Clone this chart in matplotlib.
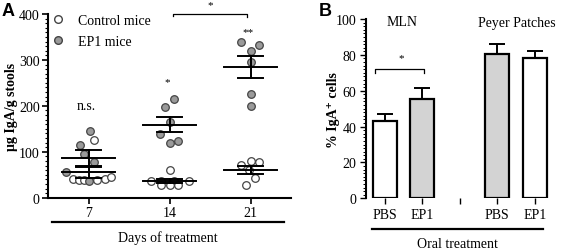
import matplotlib
matplotlib.use("Agg")
import matplotlib.pyplot as plt
from matplotlib.ticker import MultipleLocator
from matplotlib.lines import Line2D

plt.rcParams['font.family'] = ['Liberation Serif', 'DejaVu Serif']
plt.rcParams['font.size'] = 10

# ---- Panel A data (ug IgA / g stools) ----
days = ['7', '14', '21']
ctrl_vals = [[126, 41, 39, 38, 39, 41, 46],
             [61, 37, 36, 36, 36, 27, 27, 27],
             [81, 78, 71, 60, 42, 28]]
ctrl_jit = [[0.07, -0.19, -0.12, -0.06, 0.11, 0.2, 0.28],
            [0.0, -0.23, -0.11, 0.06, 0.24, -0.11, 0.0, 0.11],
            [0.0, 0.11, -0.12, -0.02, 0.06, -0.06]]
ep1_vals = [[145, 115, 96, 77, 55, 36],
            [215, 197, 164, 139, 123, 119],
            [339, 333, 320, 296, 226, 200]]
ep1_jit = [[0.02, -0.11, -0.05, 0.07, -0.28, 0.0],
           [0.06, -0.06, 0.0, -0.12, 0.11, 0.0],
           [-0.12, 0.11, 0.0, 0.0, 0.0, 0.0]]
ctrl_mean = [55, 36, 60]
ctrl_sem = [12, 4, 8]
ep1_mean = [86, 159, 285]
ep1_sem = [17, 16, 24]
sig_a = ['n.s.', '*', '**']
sig_a_y = [200, 253, 362]

# ---- Panel B data (% IgA+ cells) ----
b_labels = ['PBS', 'EP1', '', 'PBS', 'EP1']
b_vals = [43, 55.5, None, 80.5, 78.5]
b_err = [4, 6, None, 5.5, 3.5]
b_fill = ['white', '#d3d3d3', None, '#d3d3d3', 'white']

W, H = 561, 251
fig = plt.figure(figsize=(W / 100, H / 100), dpi=100)


def fx(x):
    return x / W


def fy(y):
    return 1 - y / H


# ================= Panel A =================
axA = fig.add_axes([fx(48), fy(198.7), fx(291) - fx(48), fy(15) - fy(198.7)])
for i in range(3):
    axA.scatter([i + j for j in ctrl_jit[i]], ctrl_vals[i], s=30, facecolor='white',
                edgecolor='#444444', linewidth=0.9, zorder=3, clip_on=False)
    axA.scatter([i + j for j in ep1_jit[i]], ep1_vals[i], s=30, facecolor='#9a9a9a',
                edgecolor='#444444', linewidth=0.9, zorder=3, clip_on=False)
    for m, s in [(ctrl_mean[i], ctrl_sem[i]), (ep1_mean[i], ep1_sem[i])]:
        axA.plot([i - 0.33, i + 0.33], [m, m], color='black', lw=1.4, zorder=4)
        axA.plot([i - 0.16, i + 0.16], [m + s, m + s], color='black', lw=1.4, zorder=4)
        axA.plot([i - 0.16, i + 0.16], [m - s, m - s], color='black', lw=1.4, zorder=4)
        axA.plot([i, i], [m - s, m + s], color='black', lw=1.4, zorder=4)
    axA.text(i - 0.03, sig_a_y[i], sig_a[i], ha='center', va='center',
             fontsize=10 if i == 0 else 8)

axA.set_xlim(-0.5, 2.5)
axA.set_ylim(0, 400)
axA.set_xticks(range(3))
axA.set_xticklabels(days)
axA.yaxis.set_major_locator(MultipleLocator(100))
axA.yaxis.set_minor_locator(MultipleLocator(10))
axA.tick_params(axis='both', which='major', direction='out', length=4, width=1.2, pad=2)
axA.tick_params(axis='y', which='minor', direction='out', length=2.5, width=0.8)
for sp in ['top', 'right']:
    axA.spines[sp].set_visible(False)
for sp in ['left', 'bottom']:
    axA.spines[sp].set_linewidth(1.5)

# bracket 14 vs 21
axA.plot([1.04, 1.04, 1.96, 1.96], [395, 400, 400, 393], color='black', lw=0.9, clip_on=False)
axA.text(1.5, 420, '*', ha='center', va='center', fontsize=8)

leg = axA.legend(handles=[
    Line2D([], [], marker='o', ls='', markerfacecolor='white', markeredgecolor='#444444', markersize=5.5),
    Line2D([], [], marker='o', ls='', markerfacecolor='#9a9a9a', markeredgecolor='#444444', markersize=5.5)],
    labels=['Control mice', 'EP1 mice'], loc='upper left', bbox_to_anchor=(-0.01, 1.03),
    frameon=False, fontsize=10, handlelength=1.0, handletextpad=0.9, labelspacing=0.55,
    borderaxespad=0.2, borderpad=0.2)

fig.text(fx(12), fy(107), 'μg IgA/g stools', rotation=90, ha='center', va='center',
         fontweight='bold', fontsize=10)
fig.add_artist(Line2D([fx(52), fx(284)], [fy(223), fy(223)], color='black', lw=1.6))
fig.text(fx(168), fy(238), 'Days of treatment', ha='center', va='center', fontsize=10)
fig.text(fx(8), fy(12), 'A', ha='center', va='center', fontsize=13, fontweight='bold',
         family='Liberation Sans')

# ================= Panel B =================
axB = fig.add_axes([fx(366), fy(199.3), fx(553.5) - fx(366), fy(20) - fy(199.3)])
for i, v in enumerate(b_vals):
    if v is None:
        continue
    axB.bar(i, v, width=0.65, color=b_fill[i], edgecolor='black', linewidth=1.6, zorder=2)
    axB.errorbar(i, v, yerr=[[0], [b_err[i]]], fmt='none', ecolor='black',
                 elinewidth=1.4, capsize=5.5, capthick=1.4, zorder=1)

axB.set_xlim(-0.5, 4.5)
axB.set_ylim(0, 100)
axB.set_xticks(range(5))
axB.set_xticklabels(b_labels)
axB.yaxis.set_major_locator(MultipleLocator(20))
axB.yaxis.set_minor_locator(MultipleLocator(2))
axB.tick_params(axis='both', which='major', direction='out', length=4, width=1.0, pad=3)
axB.tick_params(axis='y', which='minor', direction='out', length=2, width=0.7)
for sp in ['top', 'right', 'bottom']:
    axB.spines[sp].set_visible(False)
axB.spines['left'].set_linewidth(1.5)

axB.plot([-0.25, -0.25, 1.05, 1.05], [70, 72, 72, 70], color='black', lw=0.9)
axB.text(0.45, 78.5, '*', ha='center', va='center', fontsize=8)

fig.text(fx(402), fy(23), 'MLN', ha='center', va='center', fontsize=10)
fig.text(fx(517), fy(23), 'Peyer Patches', ha='center', va='center', fontsize=10)
fig.text(fx(333), fy(110), '% IgA⁺ cells', rotation=90, ha='center', va='center',
         fontweight='bold', fontsize=10, family=['Liberation Serif', 'DejaVu Serif'])
fig.add_artist(Line2D([fx(372), fx(543)], [fy(230), fy(230)], color='black', lw=1.6))
fig.text(fx(457), fy(245), 'Oral treatment', ha='center', va='center', fontsize=10)
fig.text(fx(325), fy(12), 'B', ha='center', va='center', fontsize=13, fontweight='bold',
         family='Liberation Sans')

fig.savefig('out.png', dpi=100)
